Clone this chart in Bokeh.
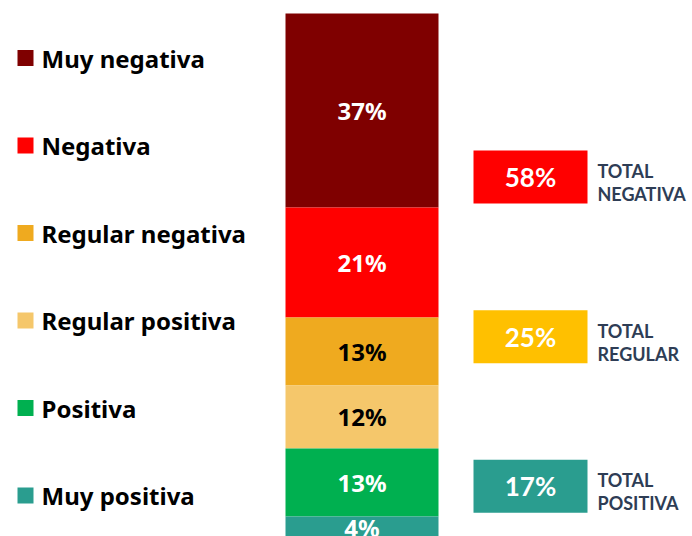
from bokeh.plotting import figure
from bokeh.models import ColumnDataSource, Range1d
from bokeh.core.properties import value
from bokeh.embed import file_html
from bokeh.resources import INLINE

# ---- data (top of bar first) ----
categories = ["Muy negativa", "Negativa", "Regular negativa",
              "Regular positiva", "Positiva", "Muy positiva"]
percent = [37, 21, 13, 12, 13, 4]
seg_colors = ["#7F0000", "#FF0000", "#EFAA1F", "#F5C76B", "#00B050", "#2A9D8F"]
label_colors = ["white", "white", "black", "black", "white", "white"]

total_names = ["NEGATIVA", "REGULAR", "POSITIVA"]
total_members = [[0, 1], [2, 3], [4, 5]]
total_colors = ["#FF0000", "#FFC000", "#2A9D8F"]

# ---- layout constants ----
BAR_X = 361.5
BAR_W = 153
LEG_TOP = 91.5
LEG_STEP = 16.7
TOTAL_Y = [68.8, 38.3, 9.8]
BOX_X = 530
TXT_X = 597

# stacked positions
tops, bottoms = [], []
acc = 0
for v in reversed(percent):
    bottoms.insert(0, acc)
    acc += v
    tops.insert(0, acc)
mids = [(t + b) / 2 for t, b in zip(tops, bottoms)]

p = figure(width=692, height=536, output_backend="svg", toolbar_location=None,
           x_range=Range1d(0, 692), y_range=Range1d(0.19, 102.48),
           min_border=0)
p.axis.visible = False
p.grid.visible = False
p.outline_line_color = None
p.background_fill_color = "white"
p.border_fill_color = "white"

bar_src = ColumnDataSource(dict(
    x=[BAR_X] * len(percent), top=tops, bottom=bottoms, color=seg_colors,
    mid=mids, label=[f"{v}%" for v in percent], lc=label_colors))
p.vbar(x="x", top="top", bottom="bottom", width=BAR_W, color="color",
       line_color=None, source=bar_src)
p.text(x="x", y="mid", text="label", text_color="lc", source=bar_src,
       text_align="center", text_baseline="middle",
       text_font=value("Noto Sans"), text_font_style="bold",
       text_font_size="24px")

# legend
leg_y = [LEG_TOP - i * LEG_STEP for i in range(len(categories))]
leg_src = ColumnDataSource(dict(y=leg_y, name=categories, color=seg_colors,
                                mx=[25] * len(categories), tx=[41] * len(categories)))
p.scatter(x="mx", y="y", marker="square", size=16, color="color",
          line_color=None, source=leg_src)
p.text(x="tx", y="y", text="name", source=leg_src, text_color="black",
       text_align="left", text_baseline="middle",
       text_font=value("Noto Sans"), text_font_style="bold",
       text_font_size="24px")

# totals
totals = [sum(percent[i] for i in grp) for grp in total_members]
tot_src = ColumnDataSource(dict(
    x=[BOX_X] * 3, y=TOTAL_Y, color=total_colors,
    label=[f"{t}%" for t in totals], tx=[TXT_X] * 3,
    l1=["TOTAL"] * 3, l2=total_names))
p.rect(x="x", y="y", width=114, height=53, width_units="screen",
       height_units="screen", color="color", line_color=None, source=tot_src)
p.text(x="x", y="y", text="label", source=tot_src, text_color="white",
       text_align="center", text_baseline="middle",
       text_font=value("Lato"), text_font_style="bold",
       text_font_size="26px")
p.text(x="tx", y="y", text="l1", source=tot_src, text_color="#2E3D55",
       text_align="left", text_baseline="middle", y_offset=-6,
       text_font=value("Lato"), text_font_style="bold",
       text_font_size="18px")
p.text(x="tx", y="y", text="l2", source=tot_src, text_color="#2E3D55",
       text_align="left", text_baseline="middle", y_offset=17,
       text_font=value("Lato"), text_font_style="bold",
       text_font_size="18px")

open("out.html", "w").write(file_html(p, INLINE))
